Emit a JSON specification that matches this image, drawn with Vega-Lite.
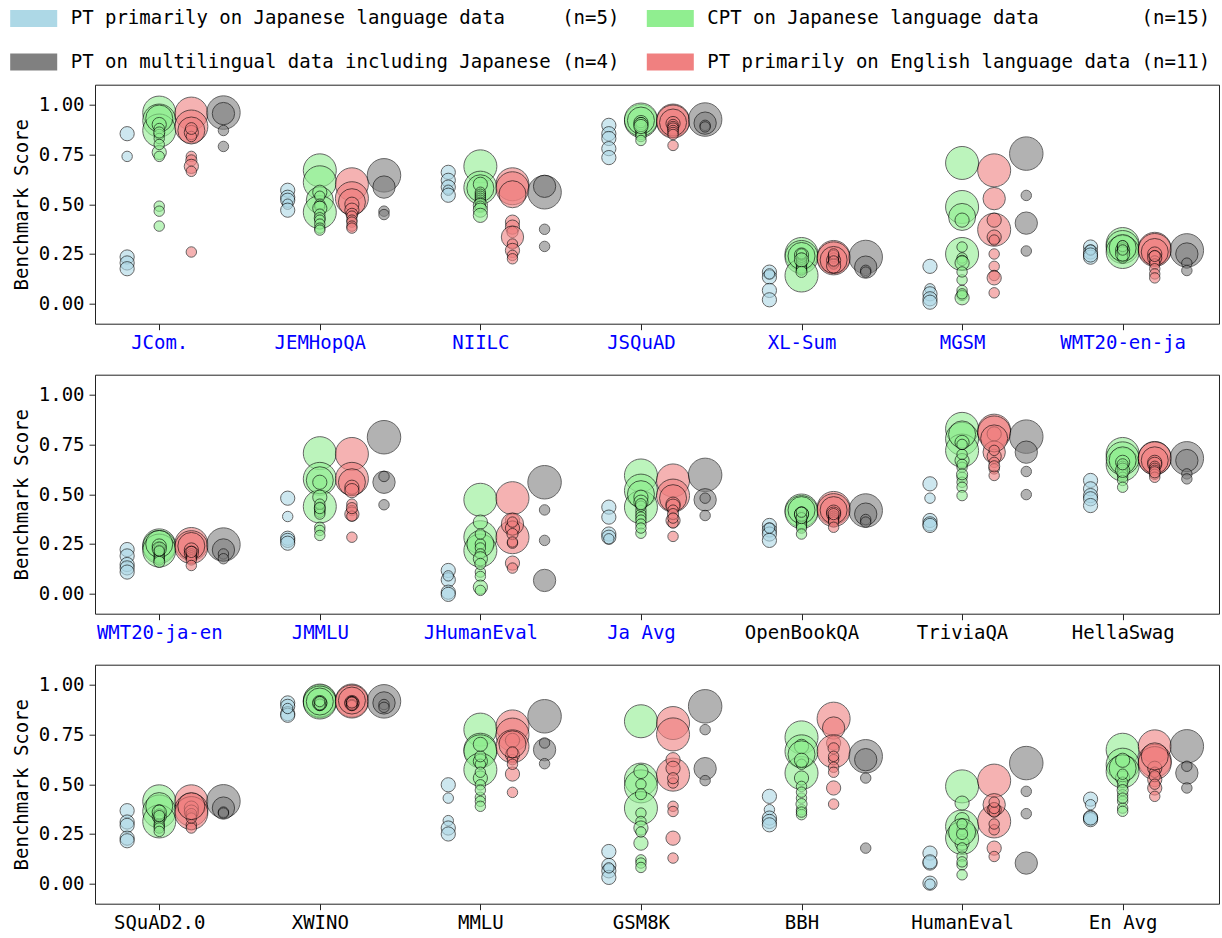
{
"$schema": "https://vega.github.io/schema/vega-lite/v6.json",
"padding": {"left": 11, "top": 2.7, "right": 5, "bottom": 5},
"config": {
  "font": "DejaVu Sans Mono",
  "view": {"stroke": "#222", "strokeWidth": 1},
  "axis": {"labelFont": "DejaVu Sans Mono", "labelFontSize": 19, "titleFont": "DejaVu Sans Mono", "titleFontSize": 19, "titleFontWeight": "normal", "tickColor": "#222", "tickSize": 6, "grid": false, "domain": false, "labelColor": "black", "titleColor": "black"},
  "concat": {"spacing": 20}
},
"spacing": 20,
"datasets": {"d": [
{"b":"JCom.","g":"ja","p":13,"s":0.854},{"b":"JCom.","g":"ja","p":7,"s":0.74},{"b":"JCom.","g":"ja","p":13,"s":0.235},{"b":"JCom.","g":"ja","p":13,"s":0.205},{"b":"JCom.","g":"ja","p":13,"s":0.176},
{"b":"JCom.","g":"cpt","p":70,"s":0.96},{"b":"JCom.","g":"cpt","p":70,"s":0.92},{"b":"JCom.","g":"cpt","p":70,"s":0.87},{"b":"JCom.","g":"cpt","p":47,"s":0.93},{"b":"JCom.","g":"cpt","p":13,"s":0.90},{"b":"JCom.","g":"cpt","p":7,"s":0.88},{"b":"JCom.","g":"cpt","p":7,"s":0.85},{"b":"JCom.","g":"cpt","p":7,"s":0.83},{"b":"JCom.","g":"cpt","p":13,"s":0.76},{"b":"JCom.","g":"cpt","p":7,"s":0.74},{"b":"JCom.","g":"cpt","p":7,"s":0.49},{"b":"JCom.","g":"cpt","p":7,"s":0.465},{"b":"JCom.","g":"cpt","p":7,"s":0.39},{"b":"JCom.","g":"cpt","p":8,"s":0.86},{"b":"JCom.","g":"cpt","p":7,"s":0.80},
{"b":"JCom.","g":"en","p":70,"s":0.955},{"b":"JCom.","g":"en","p":70,"s":0.89},{"b":"JCom.","g":"en","p":47,"s":0.87},{"b":"JCom.","g":"en","p":13,"s":0.86},{"b":"JCom.","g":"en","p":7,"s":0.84},{"b":"JCom.","g":"en","p":9,"s":0.88},{"b":"JCom.","g":"en","p":7,"s":0.74},{"b":"JCom.","g":"en","p":8,"s":0.72},{"b":"JCom.","g":"en","p":13,"s":0.69},{"b":"JCom.","g":"en","p":7,"s":0.665},{"b":"JCom.","g":"en","p":7,"s":0.26},
{"b":"JCom.","g":"multi","p":72,"s":0.96},{"b":"JCom.","g":"multi","p":32,"s":0.955},{"b":"JCom.","g":"multi","p":7,"s":0.87},{"b":"JCom.","g":"multi","p":7,"s":0.79},

{"b":"JEMHopQA","g":"ja","p":13,"s":0.57},{"b":"JEMHopQA","g":"ja","p":13,"s":0.535},{"b":"JEMHopQA","g":"ja","p":13,"s":0.52},{"b":"JEMHopQA","g":"ja","p":7,"s":0.50},{"b":"JEMHopQA","g":"ja","p":13,"s":0.47},
{"b":"JEMHopQA","g":"cpt","p":70,"s":0.67},{"b":"JEMHopQA","g":"cpt","p":70,"s":0.61},{"b":"JEMHopQA","g":"cpt","p":47,"s":0.52},{"b":"JEMHopQA","g":"cpt","p":70,"s":0.46},{"b":"JEMHopQA","g":"cpt","p":13,"s":0.56},{"b":"JEMHopQA","g":"cpt","p":7,"s":0.54},{"b":"JEMHopQA","g":"cpt","p":7,"s":0.50},{"b":"JEMHopQA","g":"cpt","p":7,"s":0.49},{"b":"JEMHopQA","g":"cpt","p":13,"s":0.48},{"b":"JEMHopQA","g":"cpt","p":7,"s":0.45},{"b":"JEMHopQA","g":"cpt","p":8,"s":0.43},{"b":"JEMHopQA","g":"cpt","p":7,"s":0.42},{"b":"JEMHopQA","g":"cpt","p":7,"s":0.40},{"b":"JEMHopQA","g":"cpt","p":7,"s":0.38},{"b":"JEMHopQA","g":"cpt","p":7,"s":0.37},
{"b":"JEMHopQA","g":"en","p":70,"s":0.60},{"b":"JEMHopQA","g":"en","p":70,"s":0.53},{"b":"JEMHopQA","g":"en","p":47,"s":0.51},{"b":"JEMHopQA","g":"en","p":13,"s":0.50},{"b":"JEMHopQA","g":"en","p":13,"s":0.47},{"b":"JEMHopQA","g":"en","p":9,"s":0.45},{"b":"JEMHopQA","g":"en","p":7,"s":0.44},{"b":"JEMHopQA","g":"en","p":7,"s":0.42},{"b":"JEMHopQA","g":"en","p":7,"s":0.41},{"b":"JEMHopQA","g":"en","p":7,"s":0.39},{"b":"JEMHopQA","g":"en","p":7,"s":0.38},
{"b":"JEMHopQA","g":"multi","p":72,"s":0.645},{"b":"JEMHopQA","g":"multi","p":32,"s":0.586},{"b":"JEMHopQA","g":"multi","p":7,"s":0.465},{"b":"JEMHopQA","g":"multi","p":7,"s":0.448},

{"b":"NIILC","g":"ja","p":13,"s":0.66},{"b":"NIILC","g":"ja","p":13,"s":0.62},{"b":"NIILC","g":"ja","p":13,"s":0.586},{"b":"NIILC","g":"ja","p":7,"s":0.57},{"b":"NIILC","g":"ja","p":13,"s":0.545},
{"b":"NIILC","g":"cpt","p":70,"s":0.69},{"b":"NIILC","g":"cpt","p":70,"s":0.583},{"b":"NIILC","g":"cpt","p":47,"s":0.58},{"b":"NIILC","g":"cpt","p":13,"s":0.60},{"b":"NIILC","g":"cpt","p":7,"s":0.56},{"b":"NIILC","g":"cpt","p":7,"s":0.55},{"b":"NIILC","g":"cpt","p":7,"s":0.54},{"b":"NIILC","g":"cpt","p":7,"s":0.53},{"b":"NIILC","g":"cpt","p":7,"s":0.52},{"b":"NIILC","g":"cpt","p":7,"s":0.51},{"b":"NIILC","g":"cpt","p":7,"s":0.50},{"b":"NIILC","g":"cpt","p":13,"s":0.494},{"b":"NIILC","g":"cpt","p":7,"s":0.49},{"b":"NIILC","g":"cpt","p":13,"s":0.47},{"b":"NIILC","g":"cpt","p":13,"s":0.444},
{"b":"NIILC","g":"en","p":70,"s":0.60},{"b":"NIILC","g":"en","p":70,"s":0.58},{"b":"NIILC","g":"en","p":47,"s":0.55},{"b":"NIILC","g":"en","p":13,"s":0.41},{"b":"NIILC","g":"en","p":13,"s":0.385},{"b":"NIILC","g":"en","p":8,"s":0.36},{"b":"NIILC","g":"en","p":32,"s":0.335},{"b":"NIILC","g":"en","p":7,"s":0.30},{"b":"NIILC","g":"en","p":13,"s":0.268},{"b":"NIILC","g":"en","p":7,"s":0.243},{"b":"NIILC","g":"en","p":7,"s":0.226},
{"b":"NIILC","g":"multi","p":72,"s":0.56},{"b":"NIILC","g":"multi","p":32,"s":0.59},{"b":"NIILC","g":"multi","p":7,"s":0.374},{"b":"NIILC","g":"multi","p":7,"s":0.288},

{"b":"JSQuAD","g":"ja","p":13,"s":0.896},{"b":"JSQuAD","g":"ja","p":13,"s":0.854},{"b":"JSQuAD","g":"ja","p":13,"s":0.83},{"b":"JSQuAD","g":"ja","p":13,"s":0.779},{"b":"JSQuAD","g":"ja","p":13,"s":0.734},
{"b":"JSQuAD","g":"cpt","p":70,"s":0.918},{"b":"JSQuAD","g":"cpt","p":70,"s":0.925},{"b":"JSQuAD","g":"cpt","p":47,"s":0.92},{"b":"JSQuAD","g":"cpt","p":13,"s":0.91},{"b":"JSQuAD","g":"cpt","p":7,"s":0.90},{"b":"JSQuAD","g":"cpt","p":7,"s":0.89},{"b":"JSQuAD","g":"cpt","p":7,"s":0.88},{"b":"JSQuAD","g":"cpt","p":7,"s":0.87},{"b":"JSQuAD","g":"cpt","p":7,"s":0.86},{"b":"JSQuAD","g":"cpt","p":7,"s":0.85},{"b":"JSQuAD","g":"cpt","p":7,"s":0.84},{"b":"JSQuAD","g":"cpt","p":7,"s":0.82},{"b":"JSQuAD","g":"cpt","p":7,"s":0.91},{"b":"JSQuAD","g":"cpt","p":13,"s":0.90},{"b":"JSQuAD","g":"cpt","p":13,"s":0.89},
{"b":"JSQuAD","g":"en","p":70,"s":0.92},{"b":"JSQuAD","g":"en","p":70,"s":0.915},{"b":"JSQuAD","g":"en","p":47,"s":0.91},{"b":"JSQuAD","g":"en","p":13,"s":0.905},{"b":"JSQuAD","g":"en","p":7,"s":0.90},{"b":"JSQuAD","g":"en","p":7,"s":0.89},{"b":"JSQuAD","g":"en","p":8,"s":0.88},{"b":"JSQuAD","g":"en","p":7,"s":0.87},{"b":"JSQuAD","g":"en","p":7,"s":0.86},{"b":"JSQuAD","g":"en","p":7,"s":0.85},{"b":"JSQuAD","g":"en","p":7,"s":0.795},
{"b":"JSQuAD","g":"multi","p":72,"s":0.925},{"b":"JSQuAD","g":"multi","p":32,"s":0.907},{"b":"JSQuAD","g":"multi","p":7,"s":0.896},{"b":"JSQuAD","g":"multi","p":7,"s":0.888},

{"b":"XL-Sum","g":"ja","p":13,"s":0.159},{"b":"XL-Sum","g":"ja","p":13,"s":0.134},{"b":"XL-Sum","g":"ja","p":13,"s":0.067},{"b":"XL-Sum","g":"ja","p":13,"s":0.02},{"b":"XL-Sum","g":"ja","p":7,"s":0.15},
{"b":"XL-Sum","g":"cpt","p":70,"s":0.25},{"b":"XL-Sum","g":"cpt","p":70,"s":0.235},{"b":"XL-Sum","g":"cpt","p":70,"s":0.142},{"b":"XL-Sum","g":"cpt","p":47,"s":0.24},{"b":"XL-Sum","g":"cpt","p":13,"s":0.245},{"b":"XL-Sum","g":"cpt","p":7,"s":0.23},{"b":"XL-Sum","g":"cpt","p":7,"s":0.22},{"b":"XL-Sum","g":"cpt","p":7,"s":0.21},{"b":"XL-Sum","g":"cpt","p":7,"s":0.20},{"b":"XL-Sum","g":"cpt","p":7,"s":0.19},{"b":"XL-Sum","g":"cpt","p":7,"s":0.18},{"b":"XL-Sum","g":"cpt","p":7,"s":0.17},{"b":"XL-Sum","g":"cpt","p":7,"s":0.25},{"b":"XL-Sum","g":"cpt","p":13,"s":0.22},{"b":"XL-Sum","g":"cpt","p":8,"s":0.16},
{"b":"XL-Sum","g":"en","p":70,"s":0.235},{"b":"XL-Sum","g":"en","p":70,"s":0.228},{"b":"XL-Sum","g":"en","p":47,"s":0.22},{"b":"XL-Sum","g":"en","p":13,"s":0.218},{"b":"XL-Sum","g":"en","p":7,"s":0.21},{"b":"XL-Sum","g":"en","p":7,"s":0.20},{"b":"XL-Sum","g":"en","p":7,"s":0.23},{"b":"XL-Sum","g":"en","p":8,"s":0.24},{"b":"XL-Sum","g":"en","p":13,"s":0.19},{"b":"XL-Sum","g":"en","p":7,"s":0.25},{"b":"XL-Sum","g":"en","p":7,"s":0.215},
{"b":"XL-Sum","g":"multi","p":72,"s":0.235},{"b":"XL-Sum","g":"multi","p":32,"s":0.184},{"b":"XL-Sum","g":"multi","p":7,"s":0.168},{"b":"XL-Sum","g":"multi","p":7,"s":0.159},

{"b":"MGSM","g":"ja","p":13,"s":0.188},{"b":"MGSM","g":"ja","p":7,"s":0.075},{"b":"MGSM","g":"ja","p":13,"s":0.05},{"b":"MGSM","g":"ja","p":13,"s":0.025},{"b":"MGSM","g":"ja","p":13,"s":0.008},
{"b":"MGSM","g":"cpt","p":70,"s":0.707},{"b":"MGSM","g":"cpt","p":70,"s":0.486},{"b":"MGSM","g":"cpt","p":47,"s":0.436},{"b":"MGSM","g":"cpt","p":70,"s":0.25},{"b":"MGSM","g":"cpt","p":13,"s":0.42},{"b":"MGSM","g":"cpt","p":7,"s":0.285},{"b":"MGSM","g":"cpt","p":7,"s":0.23},{"b":"MGSM","g":"cpt","p":7,"s":0.218},{"b":"MGSM","g":"cpt","p":13,"s":0.205},{"b":"MGSM","g":"cpt","p":7,"s":0.12},{"b":"MGSM","g":"cpt","p":7,"s":0.067},{"b":"MGSM","g":"cpt","p":7,"s":0.042},{"b":"MGSM","g":"cpt","p":13,"s":0.03},{"b":"MGSM","g":"cpt","p":7,"s":0.05},{"b":"MGSM","g":"cpt","p":7,"s":0.16},
{"b":"MGSM","g":"en","p":70,"s":0.67},{"b":"MGSM","g":"en","p":32,"s":0.528},{"b":"MGSM","g":"en","p":70,"s":0.372},{"b":"MGSM","g":"en","p":13,"s":0.42},{"b":"MGSM","g":"en","p":13,"s":0.335},{"b":"MGSM","g":"en","p":7,"s":0.32},{"b":"MGSM","g":"en","p":7,"s":0.25},{"b":"MGSM","g":"en","p":7,"s":0.188},{"b":"MGSM","g":"en","p":7,"s":0.142},{"b":"MGSM","g":"en","p":13,"s":0.13},{"b":"MGSM","g":"en","p":7,"s":0.055},
{"b":"MGSM","g":"multi","p":72,"s":0.754},{"b":"MGSM","g":"multi","p":7,"s":0.544},{"b":"MGSM","g":"multi","p":32,"s":0.405},{"b":"MGSM","g":"multi","p":7,"s":0.265},

{"b":"WMT20-en-ja","g":"ja","p":13,"s":0.285},{"b":"WMT20-en-ja","g":"ja","p":13,"s":0.26},{"b":"WMT20-en-ja","g":"ja","p":13,"s":0.234},{"b":"WMT20-en-ja","g":"ja","p":7,"s":0.27},{"b":"WMT20-en-ja","g":"ja","p":13,"s":0.245},
{"b":"WMT20-en-ja","g":"cpt","p":70,"s":0.30},{"b":"WMT20-en-ja","g":"cpt","p":70,"s":0.285},{"b":"WMT20-en-ja","g":"cpt","p":70,"s":0.26},{"b":"WMT20-en-ja","g":"cpt","p":47,"s":0.28},{"b":"WMT20-en-ja","g":"cpt","p":13,"s":0.27},{"b":"WMT20-en-ja","g":"cpt","p":7,"s":0.29},{"b":"WMT20-en-ja","g":"cpt","p":7,"s":0.28},{"b":"WMT20-en-ja","g":"cpt","p":7,"s":0.27},{"b":"WMT20-en-ja","g":"cpt","p":7,"s":0.26},{"b":"WMT20-en-ja","g":"cpt","p":7,"s":0.25},{"b":"WMT20-en-ja","g":"cpt","p":7,"s":0.24},{"b":"WMT20-en-ja","g":"cpt","p":7,"s":0.23},{"b":"WMT20-en-ja","g":"cpt","p":13,"s":0.25},{"b":"WMT20-en-ja","g":"cpt","p":8,"s":0.29},{"b":"WMT20-en-ja","g":"cpt","p":7,"s":0.27},
{"b":"WMT20-en-ja","g":"en","p":70,"s":0.276},{"b":"WMT20-en-ja","g":"en","p":70,"s":0.27},{"b":"WMT20-en-ja","g":"en","p":47,"s":0.26},{"b":"WMT20-en-ja","g":"en","p":13,"s":0.25},{"b":"WMT20-en-ja","g":"en","p":13,"s":0.23},{"b":"WMT20-en-ja","g":"en","p":7,"s":0.215},{"b":"WMT20-en-ja","g":"en","p":7,"s":0.20},{"b":"WMT20-en-ja","g":"en","p":7,"s":0.176},{"b":"WMT20-en-ja","g":"en","p":7,"s":0.15},{"b":"WMT20-en-ja","g":"en","p":7,"s":0.13},{"b":"WMT20-en-ja","g":"en","p":8,"s":0.24},
{"b":"WMT20-en-ja","g":"multi","p":72,"s":0.268},{"b":"WMT20-en-ja","g":"multi","p":32,"s":0.25},{"b":"WMT20-en-ja","g":"multi","p":7,"s":0.204},{"b":"WMT20-en-ja","g":"multi","p":7,"s":0.167},

{"b":"WMT20-ja-en","g":"ja","p":13,"s":0.222},{"b":"WMT20-ja-en","g":"ja","p":13,"s":0.19},{"b":"WMT20-ja-en","g":"ja","p":13,"s":0.147},{"b":"WMT20-ja-en","g":"ja","p":13,"s":0.13},{"b":"WMT20-ja-en","g":"ja","p":13,"s":0.109},
{"b":"WMT20-ja-en","g":"cpt","p":70,"s":0.243},{"b":"WMT20-ja-en","g":"cpt","p":70,"s":0.235},{"b":"WMT20-ja-en","g":"cpt","p":70,"s":0.217},{"b":"WMT20-ja-en","g":"cpt","p":47,"s":0.25},{"b":"WMT20-ja-en","g":"cpt","p":13,"s":0.24},{"b":"WMT20-ja-en","g":"cpt","p":7,"s":0.23},{"b":"WMT20-ja-en","g":"cpt","p":7,"s":0.22},{"b":"WMT20-ja-en","g":"cpt","p":7,"s":0.21},{"b":"WMT20-ja-en","g":"cpt","p":7,"s":0.20},{"b":"WMT20-ja-en","g":"cpt","p":7,"s":0.19},{"b":"WMT20-ja-en","g":"cpt","p":7,"s":0.18},{"b":"WMT20-ja-en","g":"cpt","p":7,"s":0.17},{"b":"WMT20-ja-en","g":"cpt","p":13,"s":0.225},{"b":"WMT20-ja-en","g":"cpt","p":8,"s":0.16},{"b":"WMT20-ja-en","g":"cpt","p":7,"s":0.215},
{"b":"WMT20-ja-en","g":"en","p":70,"s":0.25},{"b":"WMT20-ja-en","g":"en","p":70,"s":0.234},{"b":"WMT20-ja-en","g":"en","p":47,"s":0.24},{"b":"WMT20-ja-en","g":"en","p":13,"s":0.22},{"b":"WMT20-ja-en","g":"en","p":13,"s":0.204},{"b":"WMT20-ja-en","g":"en","p":7,"s":0.20},{"b":"WMT20-ja-en","g":"en","p":7,"s":0.19},{"b":"WMT20-ja-en","g":"en","p":7,"s":0.18},{"b":"WMT20-ja-en","g":"en","p":7,"s":0.17},{"b":"WMT20-ja-en","g":"en","p":7,"s":0.142},{"b":"WMT20-ja-en","g":"en","p":8,"s":0.21},
{"b":"WMT20-ja-en","g":"multi","p":72,"s":0.247},{"b":"WMT20-ja-en","g":"multi","p":32,"s":0.22},{"b":"WMT20-ja-en","g":"multi","p":7,"s":0.20},{"b":"WMT20-ja-en","g":"multi","p":7,"s":0.176},

{"b":"JMMLU","g":"ja","p":13,"s":0.48},{"b":"JMMLU","g":"ja","p":7,"s":0.388},{"b":"JMMLU","g":"ja","p":13,"s":0.279},{"b":"JMMLU","g":"ja","p":13,"s":0.268},{"b":"JMMLU","g":"ja","p":13,"s":0.254},
{"b":"JMMLU","g":"cpt","p":70,"s":0.706},{"b":"JMMLU","g":"cpt","p":70,"s":0.577},{"b":"JMMLU","g":"cpt","p":70,"s":0.438},{"b":"JMMLU","g":"cpt","p":47,"s":0.57},{"b":"JMMLU","g":"cpt","p":13,"s":0.56},{"b":"JMMLU","g":"cpt","p":13,"s":0.485},{"b":"JMMLU","g":"cpt","p":7,"s":0.435},{"b":"JMMLU","g":"cpt","p":7,"s":0.42},{"b":"JMMLU","g":"cpt","p":7,"s":0.41},{"b":"JMMLU","g":"cpt","p":7,"s":0.40},{"b":"JMMLU","g":"cpt","p":7,"s":0.334},{"b":"JMMLU","g":"cpt","p":7,"s":0.318},{"b":"JMMLU","g":"cpt","p":7,"s":0.293},{"b":"JMMLU","g":"cpt","p":7,"s":0.45},{"b":"JMMLU","g":"cpt","p":8,"s":0.43},
{"b":"JMMLU","g":"en","p":70,"s":0.702},{"b":"JMMLU","g":"en","p":70,"s":0.577},{"b":"JMMLU","g":"en","p":47,"s":0.56},{"b":"JMMLU","g":"en","p":13,"s":0.535},{"b":"JMMLU","g":"en","p":13,"s":0.518},{"b":"JMMLU","g":"en","p":7,"s":0.45},{"b":"JMMLU","g":"en","p":7,"s":0.418},{"b":"JMMLU","g":"en","p":13,"s":0.40},{"b":"JMMLU","g":"en","p":7,"s":0.39},{"b":"JMMLU","g":"en","p":7,"s":0.284},{"b":"JMMLU","g":"en","p":8,"s":0.43},
{"b":"JMMLU","g":"multi","p":72,"s":0.786},{"b":"JMMLU","g":"multi","p":32,"s":0.56},{"b":"JMMLU","g":"multi","p":7,"s":0.589},{"b":"JMMLU","g":"multi","p":7,"s":0.447},

{"b":"JHumanEval","g":"ja","p":13,"s":0.117},{"b":"JHumanEval","g":"ja","p":13,"s":0.07},{"b":"JHumanEval","g":"ja","p":13,"s":0.008},{"b":"JHumanEval","g":"ja","p":13,"s":-0.003},{"b":"JHumanEval","g":"ja","p":7,"s":0.09},
{"b":"JHumanEval","g":"cpt","p":70,"s":0.472},{"b":"JHumanEval","g":"cpt","p":70,"s":0.284},{"b":"JHumanEval","g":"cpt","p":70,"s":0.217},{"b":"JHumanEval","g":"cpt","p":47,"s":0.25},{"b":"JHumanEval","g":"cpt","p":13,"s":0.36},{"b":"JHumanEval","g":"cpt","p":7,"s":0.25},{"b":"JHumanEval","g":"cpt","p":7,"s":0.23},{"b":"JHumanEval","g":"cpt","p":7,"s":0.20},{"b":"JHumanEval","g":"cpt","p":13,"s":0.176},{"b":"JHumanEval","g":"cpt","p":7,"s":0.109},{"b":"JHumanEval","g":"cpt","p":7,"s":0.087},{"b":"JHumanEval","g":"cpt","p":13,"s":0.033},{"b":"JHumanEval","g":"cpt","p":7,"s":0.017},{"b":"JHumanEval","g":"cpt","p":7,"s":0.30},{"b":"JHumanEval","g":"cpt","p":8,"s":0.15},
{"b":"JHumanEval","g":"en","p":70,"s":0.48},{"b":"JHumanEval","g":"en","p":70,"s":0.284},{"b":"JHumanEval","g":"en","p":13,"s":0.368},{"b":"JHumanEval","g":"en","p":32,"s":0.35},{"b":"JHumanEval","g":"en","p":13,"s":0.33},{"b":"JHumanEval","g":"en","p":7,"s":0.254},{"b":"JHumanEval","g":"en","p":13,"s":0.154},{"b":"JHumanEval","g":"en","p":7,"s":0.129},{"b":"JHumanEval","g":"en","p":7,"s":0.36},{"b":"JHumanEval","g":"en","p":8,"s":0.30},{"b":"JHumanEval","g":"en","p":7,"s":0.26},
{"b":"JHumanEval","g":"multi","p":72,"s":0.56},{"b":"JHumanEval","g":"multi","p":7,"s":0.421},{"b":"JHumanEval","g":"multi","p":7,"s":0.268},{"b":"JHumanEval","g":"multi","p":32,"s":0.067},

{"b":"Ja Avg","g":"ja","p":13,"s":0.435},{"b":"Ja Avg","g":"ja","p":13,"s":0.385},{"b":"Ja Avg","g":"ja","p":13,"s":0.30},{"b":"Ja Avg","g":"ja","p":13,"s":0.284},{"b":"Ja Avg","g":"ja","p":7,"s":0.276},
{"b":"Ja Avg","g":"cpt","p":70,"s":0.594},{"b":"Ja Avg","g":"cpt","p":70,"s":0.518},{"b":"Ja Avg","g":"cpt","p":70,"s":0.435},{"b":"Ja Avg","g":"cpt","p":47,"s":0.50},{"b":"Ja Avg","g":"cpt","p":13,"s":0.485},{"b":"Ja Avg","g":"cpt","p":13,"s":0.46},{"b":"Ja Avg","g":"cpt","p":7,"s":0.418},{"b":"Ja Avg","g":"cpt","p":7,"s":0.40},{"b":"Ja Avg","g":"cpt","p":7,"s":0.385},{"b":"Ja Avg","g":"cpt","p":7,"s":0.37},{"b":"Ja Avg","g":"cpt","p":7,"s":0.35},{"b":"Ja Avg","g":"cpt","p":7,"s":0.304},{"b":"Ja Avg","g":"cpt","p":7,"s":0.44},{"b":"Ja Avg","g":"cpt","p":8,"s":0.45},{"b":"Ja Avg","g":"cpt","p":7,"s":0.33},
{"b":"Ja Avg","g":"en","p":70,"s":0.569},{"b":"Ja Avg","g":"en","p":70,"s":0.493},{"b":"Ja Avg","g":"en","p":47,"s":0.48},{"b":"Ja Avg","g":"en","p":13,"s":0.45},{"b":"Ja Avg","g":"en","p":13,"s":0.44},{"b":"Ja Avg","g":"en","p":7,"s":0.42},{"b":"Ja Avg","g":"en","p":13,"s":0.368},{"b":"Ja Avg","g":"en","p":7,"s":0.355},{"b":"Ja Avg","g":"en","p":7,"s":0.288},{"b":"Ja Avg","g":"en","p":8,"s":0.40},{"b":"Ja Avg","g":"en","p":7,"s":0.38},
{"b":"Ja Avg","g":"multi","p":72,"s":0.597},{"b":"Ja Avg","g":"multi","p":32,"s":0.472},{"b":"Ja Avg","g":"multi","p":7,"s":0.48},{"b":"Ja Avg","g":"multi","p":7,"s":0.393},

{"b":"OpenBookQA","g":"ja","p":13,"s":0.343},{"b":"OpenBookQA","g":"ja","p":13,"s":0.32},{"b":"OpenBookQA","g":"ja","p":13,"s":0.30},{"b":"OpenBookQA","g":"ja","p":13,"s":0.268},{"b":"OpenBookQA","g":"ja","p":7,"s":0.33},
{"b":"OpenBookQA","g":"cpt","p":70,"s":0.418},{"b":"OpenBookQA","g":"cpt","p":70,"s":0.41},{"b":"OpenBookQA","g":"cpt","p":47,"s":0.42},{"b":"OpenBookQA","g":"cpt","p":13,"s":0.40},{"b":"OpenBookQA","g":"cpt","p":7,"s":0.39},{"b":"OpenBookQA","g":"cpt","p":7,"s":0.38},{"b":"OpenBookQA","g":"cpt","p":7,"s":0.37},{"b":"OpenBookQA","g":"cpt","p":7,"s":0.36},{"b":"OpenBookQA","g":"cpt","p":7,"s":0.35},{"b":"OpenBookQA","g":"cpt","p":7,"s":0.34},{"b":"OpenBookQA","g":"cpt","p":7,"s":0.33},{"b":"OpenBookQA","g":"cpt","p":7,"s":0.30},{"b":"OpenBookQA","g":"cpt","p":13,"s":0.40},{"b":"OpenBookQA","g":"cpt","p":8,"s":0.38},{"b":"OpenBookQA","g":"cpt","p":7,"s":0.41},
{"b":"OpenBookQA","g":"en","p":70,"s":0.431},{"b":"OpenBookQA","g":"en","p":70,"s":0.42},{"b":"OpenBookQA","g":"en","p":47,"s":0.42},{"b":"OpenBookQA","g":"en","p":13,"s":0.41},{"b":"OpenBookQA","g":"en","p":13,"s":0.40},{"b":"OpenBookQA","g":"en","p":7,"s":0.39},{"b":"OpenBookQA","g":"en","p":7,"s":0.38},{"b":"OpenBookQA","g":"en","p":7,"s":0.37},{"b":"OpenBookQA","g":"en","p":7,"s":0.36},{"b":"OpenBookQA","g":"en","p":7,"s":0.334},{"b":"OpenBookQA","g":"en","p":8,"s":0.40},
{"b":"OpenBookQA","g":"multi","p":72,"s":0.418},{"b":"OpenBookQA","g":"multi","p":32,"s":0.40},{"b":"OpenBookQA","g":"multi","p":7,"s":0.373},{"b":"OpenBookQA","g":"multi","p":7,"s":0.36},

{"b":"TriviaQA","g":"ja","p":13,"s":0.552},{"b":"TriviaQA","g":"ja","p":7,"s":0.48},{"b":"TriviaQA","g":"ja","p":13,"s":0.368},{"b":"TriviaQA","g":"ja","p":13,"s":0.351},{"b":"TriviaQA","g":"ja","p":13,"s":0.343},
{"b":"TriviaQA","g":"cpt","p":70,"s":0.828},{"b":"TriviaQA","g":"cpt","p":70,"s":0.778},{"b":"TriviaQA","g":"cpt","p":70,"s":0.719},{"b":"TriviaQA","g":"cpt","p":47,"s":0.80},{"b":"TriviaQA","g":"cpt","p":13,"s":0.76},{"b":"TriviaQA","g":"cpt","p":13,"s":0.669},{"b":"TriviaQA","g":"cpt","p":7,"s":0.635},{"b":"TriviaQA","g":"cpt","p":7,"s":0.585},{"b":"TriviaQA","g":"cpt","p":7,"s":0.56},{"b":"TriviaQA","g":"cpt","p":7,"s":0.535},{"b":"TriviaQA","g":"cpt","p":7,"s":0.493},{"b":"TriviaQA","g":"cpt","p":7,"s":0.70},{"b":"TriviaQA","g":"cpt","p":7,"s":0.65},{"b":"TriviaQA","g":"cpt","p":8,"s":0.60},{"b":"TriviaQA","g":"cpt","p":7,"s":0.75},
{"b":"TriviaQA","g":"en","p":70,"s":0.819},{"b":"TriviaQA","g":"en","p":70,"s":0.81},{"b":"TriviaQA","g":"en","p":13,"s":0.803},{"b":"TriviaQA","g":"en","p":32,"s":0.711},{"b":"TriviaQA","g":"en","p":13,"s":0.69},{"b":"TriviaQA","g":"en","p":7,"s":0.66},{"b":"TriviaQA","g":"en","p":7,"s":0.627},{"b":"TriviaQA","g":"en","p":7,"s":0.594},{"b":"TriviaQA","g":"en","p":47,"s":0.78},{"b":"TriviaQA","g":"en","p":8,"s":0.64},{"b":"TriviaQA","g":"en","p":7,"s":0.72},
{"b":"TriviaQA","g":"multi","p":72,"s":0.789},{"b":"TriviaQA","g":"multi","p":32,"s":0.711},{"b":"TriviaQA","g":"multi","p":7,"s":0.614},{"b":"TriviaQA","g":"multi","p":7,"s":0.498},

{"b":"HellaSwag","g":"ja","p":13,"s":0.569},{"b":"HellaSwag","g":"ja","p":13,"s":0.527},{"b":"HellaSwag","g":"ja","p":13,"s":0.493},{"b":"HellaSwag","g":"ja","p":13,"s":0.477},{"b":"HellaSwag","g":"ja","p":13,"s":0.443},
{"b":"HellaSwag","g":"cpt","p":70,"s":0.702},{"b":"HellaSwag","g":"cpt","p":70,"s":0.649},{"b":"HellaSwag","g":"cpt","p":70,"s":0.68},{"b":"HellaSwag","g":"cpt","p":47,"s":0.67},{"b":"HellaSwag","g":"cpt","p":13,"s":0.66},{"b":"HellaSwag","g":"cpt","p":7,"s":0.64},{"b":"HellaSwag","g":"cpt","p":7,"s":0.63},{"b":"HellaSwag","g":"cpt","p":7,"s":0.62},{"b":"HellaSwag","g":"cpt","p":7,"s":0.61},{"b":"HellaSwag","g":"cpt","p":7,"s":0.60},{"b":"HellaSwag","g":"cpt","p":7,"s":0.585},{"b":"HellaSwag","g":"cpt","p":7,"s":0.569},{"b":"HellaSwag","g":"cpt","p":7,"s":0.535},{"b":"HellaSwag","g":"cpt","p":13,"s":0.62},{"b":"HellaSwag","g":"cpt","p":8,"s":0.65},
{"b":"HellaSwag","g":"en","p":70,"s":0.682},{"b":"HellaSwag","g":"en","p":70,"s":0.68},{"b":"HellaSwag","g":"en","p":47,"s":0.67},{"b":"HellaSwag","g":"en","p":13,"s":0.66},{"b":"HellaSwag","g":"en","p":13,"s":0.65},{"b":"HellaSwag","g":"en","p":7,"s":0.64},{"b":"HellaSwag","g":"en","p":7,"s":0.63},{"b":"HellaSwag","g":"en","p":7,"s":0.62},{"b":"HellaSwag","g":"en","p":7,"s":0.60},{"b":"HellaSwag","g":"en","p":7,"s":0.585},{"b":"HellaSwag","g":"en","p":8,"s":0.61},
{"b":"HellaSwag","g":"multi","p":72,"s":0.68},{"b":"HellaSwag","g":"multi","p":32,"s":0.669},{"b":"HellaSwag","g":"multi","p":7,"s":0.602},{"b":"HellaSwag","g":"multi","p":7,"s":0.577},

{"b":"SQuAD2.0","g":"ja","p":13,"s":0.367},{"b":"SQuAD2.0","g":"ja","p":13,"s":0.31},{"b":"SQuAD2.0","g":"ja","p":13,"s":0.293},{"b":"SQuAD2.0","g":"ja","p":13,"s":0.229},{"b":"SQuAD2.0","g":"ja","p":13,"s":0.216},
{"b":"SQuAD2.0","g":"cpt","p":70,"s":0.414},{"b":"SQuAD2.0","g":"cpt","p":70,"s":0.363},{"b":"SQuAD2.0","g":"cpt","p":70,"s":0.313},{"b":"SQuAD2.0","g":"cpt","p":47,"s":0.39},{"b":"SQuAD2.0","g":"cpt","p":13,"s":0.338},{"b":"SQuAD2.0","g":"cpt","p":7,"s":0.37},{"b":"SQuAD2.0","g":"cpt","p":7,"s":0.35},{"b":"SQuAD2.0","g":"cpt","p":7,"s":0.33},{"b":"SQuAD2.0","g":"cpt","p":7,"s":0.32},{"b":"SQuAD2.0","g":"cpt","p":7,"s":0.30},{"b":"SQuAD2.0","g":"cpt","p":7,"s":0.29},{"b":"SQuAD2.0","g":"cpt","p":7,"s":0.28},{"b":"SQuAD2.0","g":"cpt","p":7,"s":0.263},{"b":"SQuAD2.0","g":"cpt","p":13,"s":0.36},{"b":"SQuAD2.0","g":"cpt","p":8,"s":0.34},
{"b":"SQuAD2.0","g":"en","p":70,"s":0.414},{"b":"SQuAD2.0","g":"en","p":70,"s":0.372},{"b":"SQuAD2.0","g":"en","p":70,"s":0.355},{"b":"SQuAD2.0","g":"en","p":13,"s":0.38},{"b":"SQuAD2.0","g":"en","p":13,"s":0.36},{"b":"SQuAD2.0","g":"en","p":7,"s":0.34},{"b":"SQuAD2.0","g":"en","p":7,"s":0.296},{"b":"SQuAD2.0","g":"en","p":7,"s":0.28},{"b":"SQuAD2.0","g":"en","p":8,"s":0.35},{"b":"SQuAD2.0","g":"en","p":7,"s":0.33},{"b":"SQuAD2.0","g":"en","p":47,"s":0.39},
{"b":"SQuAD2.0","g":"multi","p":72,"s":0.414},{"b":"SQuAD2.0","g":"multi","p":32,"s":0.38},{"b":"SQuAD2.0","g":"multi","p":7,"s":0.36},{"b":"SQuAD2.0","g":"multi","p":7,"s":0.355},

{"b":"XWINO","g":"ja","p":13,"s":0.908},{"b":"XWINO","g":"ja","p":13,"s":0.891},{"b":"XWINO","g":"ja","p":13,"s":0.854},{"b":"XWINO","g":"ja","p":13,"s":0.846},{"b":"XWINO","g":"ja","p":7,"s":0.88},
{"b":"XWINO","g":"cpt","p":70,"s":0.916},{"b":"XWINO","g":"cpt","p":70,"s":0.92},{"b":"XWINO","g":"cpt","p":70,"s":0.91},{"b":"XWINO","g":"cpt","p":47,"s":0.915},{"b":"XWINO","g":"cpt","p":13,"s":0.91},{"b":"XWINO","g":"cpt","p":7,"s":0.90},{"b":"XWINO","g":"cpt","p":7,"s":0.905},{"b":"XWINO","g":"cpt","p":7,"s":0.91},{"b":"XWINO","g":"cpt","p":7,"s":0.90},{"b":"XWINO","g":"cpt","p":7,"s":0.895},{"b":"XWINO","g":"cpt","p":7,"s":0.90},{"b":"XWINO","g":"cpt","p":7,"s":0.91},{"b":"XWINO","g":"cpt","p":13,"s":0.905},{"b":"XWINO","g":"cpt","p":8,"s":0.90},{"b":"XWINO","g":"cpt","p":7,"s":0.915},
{"b":"XWINO","g":"en","p":70,"s":0.92},{"b":"XWINO","g":"en","p":70,"s":0.915},{"b":"XWINO","g":"en","p":47,"s":0.92},{"b":"XWINO","g":"en","p":13,"s":0.91},{"b":"XWINO","g":"en","p":13,"s":0.905},{"b":"XWINO","g":"en","p":7,"s":0.90},{"b":"XWINO","g":"en","p":7,"s":0.91},{"b":"XWINO","g":"en","p":7,"s":0.915},{"b":"XWINO","g":"en","p":7,"s":0.90},{"b":"XWINO","g":"en","p":7,"s":0.895},{"b":"XWINO","g":"en","p":8,"s":0.91},
{"b":"XWINO","g":"multi","p":72,"s":0.916},{"b":"XWINO","g":"multi","p":32,"s":0.908},{"b":"XWINO","g":"multi","p":7,"s":0.90},{"b":"XWINO","g":"multi","p":7,"s":0.886},

{"b":"MMLU","g":"ja","p":13,"s":0.497},{"b":"MMLU","g":"ja","p":7,"s":0.43},{"b":"MMLU","g":"ja","p":7,"s":0.317},{"b":"MMLU","g":"ja","p":13,"s":0.28},{"b":"MMLU","g":"ja","p":13,"s":0.25},
{"b":"MMLU","g":"cpt","p":70,"s":0.774},{"b":"MMLU","g":"cpt","p":70,"s":0.673},{"b":"MMLU","g":"cpt","p":70,"s":0.665},{"b":"MMLU","g":"cpt","p":70,"s":0.573},{"b":"MMLU","g":"cpt","p":13,"s":0.615},{"b":"MMLU","g":"cpt","p":13,"s":0.531},{"b":"MMLU","g":"cpt","p":7,"s":0.497},{"b":"MMLU","g":"cpt","p":7,"s":0.434},{"b":"MMLU","g":"cpt","p":7,"s":0.414},{"b":"MMLU","g":"cpt","p":7,"s":0.389},{"b":"MMLU","g":"cpt","p":7,"s":0.60},{"b":"MMLU","g":"cpt","p":7,"s":0.56},{"b":"MMLU","g":"cpt","p":8,"s":0.64},{"b":"MMLU","g":"cpt","p":13,"s":0.70},{"b":"MMLU","g":"cpt","p":7,"s":0.47},
{"b":"MMLU","g":"en","p":70,"s":0.79},{"b":"MMLU","g":"en","p":70,"s":0.749},{"b":"MMLU","g":"en","p":70,"s":0.69},{"b":"MMLU","g":"en","p":13,"s":0.72},{"b":"MMLU","g":"en","p":13,"s":0.648},{"b":"MMLU","g":"en","p":7,"s":0.623},{"b":"MMLU","g":"en","p":13,"s":0.551},{"b":"MMLU","g":"en","p":7,"s":0.459},{"b":"MMLU","g":"en","p":47,"s":0.70},{"b":"MMLU","g":"en","p":8,"s":0.66},{"b":"MMLU","g":"en","p":7,"s":0.60},
{"b":"MMLU","g":"multi","p":72,"s":0.841},{"b":"MMLU","g":"multi","p":32,"s":0.673},{"b":"MMLU","g":"multi","p":7,"s":0.707},{"b":"MMLU","g":"multi","p":7,"s":0.603},

{"b":"GSM8K","g":"ja","p":13,"s":0.162},{"b":"GSM8K","g":"ja","p":13,"s":0.092},{"b":"GSM8K","g":"ja","p":13,"s":0.065},{"b":"GSM8K","g":"ja","p":13,"s":0.032},{"b":"GSM8K","g":"ja","p":7,"s":0.08},
{"b":"GSM8K","g":"cpt","p":70,"s":0.816},{"b":"GSM8K","g":"cpt","p":70,"s":0.523},{"b":"GSM8K","g":"cpt","p":70,"s":0.489},{"b":"GSM8K","g":"cpt","p":70,"s":0.38},{"b":"GSM8K","g":"cpt","p":13,"s":0.564},{"b":"GSM8K","g":"cpt","p":7,"s":0.355},{"b":"GSM8K","g":"cpt","p":7,"s":0.313},{"b":"GSM8K","g":"cpt","p":13,"s":0.28},{"b":"GSM8K","g":"cpt","p":13,"s":0.204},{"b":"GSM8K","g":"cpt","p":7,"s":0.12},{"b":"GSM8K","g":"cpt","p":7,"s":0.104},{"b":"GSM8K","g":"cpt","p":7,"s":0.082},{"b":"GSM8K","g":"cpt","p":7,"s":0.50},{"b":"GSM8K","g":"cpt","p":8,"s":0.45},{"b":"GSM8K","g":"cpt","p":7,"s":0.26},
{"b":"GSM8K","g":"en","p":70,"s":0.807},{"b":"GSM8K","g":"en","p":70,"s":0.75},{"b":"GSM8K","g":"en","p":70,"s":0.548},{"b":"GSM8K","g":"en","p":13,"s":0.623},{"b":"GSM8K","g":"en","p":13,"s":0.58},{"b":"GSM8K","g":"en","p":7,"s":0.506},{"b":"GSM8K","g":"en","p":7,"s":0.389},{"b":"GSM8K","g":"en","p":7,"s":0.363},{"b":"GSM8K","g":"en","p":13,"s":0.229},{"b":"GSM8K","g":"en","p":7,"s":0.129},{"b":"GSM8K","g":"en","p":8,"s":0.53},
{"b":"GSM8K","g":"multi","p":72,"s":0.891},{"b":"GSM8K","g":"multi","p":7,"s":0.774},{"b":"GSM8K","g":"multi","p":32,"s":0.578},{"b":"GSM8K","g":"multi","p":7,"s":0.518},

{"b":"BBH","g":"ja","p":13,"s":0.439},{"b":"BBH","g":"ja","p":7,"s":0.372},{"b":"BBH","g":"ja","p":13,"s":0.33},{"b":"BBH","g":"ja","p":13,"s":0.313},{"b":"BBH","g":"ja","p":13,"s":0.296},
{"b":"BBH","g":"cpt","p":70,"s":0.735},{"b":"BBH","g":"cpt","p":70,"s":0.665},{"b":"BBH","g":"cpt","p":70,"s":0.556},{"b":"BBH","g":"cpt","p":13,"s":0.69},{"b":"BBH","g":"cpt","p":13,"s":0.531},{"b":"BBH","g":"cpt","p":7,"s":0.489},{"b":"BBH","g":"cpt","p":7,"s":0.43},{"b":"BBH","g":"cpt","p":7,"s":0.372},{"b":"BBH","g":"cpt","p":7,"s":0.347},{"b":"BBH","g":"cpt","p":47,"s":0.65},{"b":"BBH","g":"cpt","p":7,"s":0.60},{"b":"BBH","g":"cpt","p":7,"s":0.46},{"b":"BBH","g":"cpt","p":8,"s":0.40},{"b":"BBH","g":"cpt","p":7,"s":0.36},{"b":"BBH","g":"cpt","p":13,"s":0.62},
{"b":"BBH","g":"en","p":70,"s":0.829},{"b":"BBH","g":"en","p":32,"s":0.782},{"b":"BBH","g":"en","p":13,"s":0.707},{"b":"BBH","g":"en","p":70,"s":0.665},{"b":"BBH","g":"en","p":7,"s":0.623},{"b":"BBH","g":"en","p":7,"s":0.585},{"b":"BBH","g":"en","p":7,"s":0.56},{"b":"BBH","g":"en","p":13,"s":0.481},{"b":"BBH","g":"en","p":7,"s":0.40},{"b":"BBH","g":"en","p":8,"s":0.68},{"b":"BBH","g":"en","p":7,"s":0.64},
{"b":"BBH","g":"multi","p":72,"s":0.64},{"b":"BBH","g":"multi","p":32,"s":0.623},{"b":"BBH","g":"multi","p":7,"s":0.531},{"b":"BBH","g":"multi","p":7,"s":0.179},

{"b":"HumanEval","g":"ja","p":13,"s":0.154},{"b":"HumanEval","g":"ja","p":13,"s":0.104},{"b":"HumanEval","g":"ja","p":13,"s":0.003},{"b":"HumanEval","g":"ja","p":7,"s":-0.002},{"b":"HumanEval","g":"ja","p":13,"s":0.11},
{"b":"HumanEval","g":"cpt","p":70,"s":0.489},{"b":"HumanEval","g":"cpt","p":70,"s":0.288},{"b":"HumanEval","g":"cpt","p":70,"s":0.23},{"b":"HumanEval","g":"cpt","p":13,"s":0.405},{"b":"HumanEval","g":"cpt","p":13,"s":0.322},{"b":"HumanEval","g":"cpt","p":7,"s":0.271},{"b":"HumanEval","g":"cpt","p":13,"s":0.204},{"b":"HumanEval","g":"cpt","p":7,"s":0.137},{"b":"HumanEval","g":"cpt","p":7,"s":0.095},{"b":"HumanEval","g":"cpt","p":7,"s":0.045},{"b":"HumanEval","g":"cpt","p":47,"s":0.26},{"b":"HumanEval","g":"cpt","p":7,"s":0.18},{"b":"HumanEval","g":"cpt","p":8,"s":0.25},{"b":"HumanEval","g":"cpt","p":7,"s":0.30},{"b":"HumanEval","g":"cpt","p":7,"s":0.11},
{"b":"HumanEval","g":"en","p":70,"s":0.518},{"b":"HumanEval","g":"en","p":70,"s":0.313},{"b":"HumanEval","g":"en","p":32,"s":0.397},{"b":"HumanEval","g":"en","p":13,"s":0.372},{"b":"HumanEval","g":"en","p":7,"s":0.271},{"b":"HumanEval","g":"en","p":13,"s":0.179},{"b":"HumanEval","g":"en","p":7,"s":0.137},{"b":"HumanEval","g":"en","p":7,"s":0.36},{"b":"HumanEval","g":"en","p":8,"s":0.38},{"b":"HumanEval","g":"en","p":7,"s":0.30},{"b":"HumanEval","g":"en","p":7,"s":0.41},
{"b":"HumanEval","g":"multi","p":72,"s":0.606},{"b":"HumanEval","g":"multi","p":7,"s":0.464},{"b":"HumanEval","g":"multi","p":7,"s":0.352},{"b":"HumanEval","g":"multi","p":32,"s":0.104},

{"b":"En Avg","g":"ja","p":13,"s":0.425},{"b":"En Avg","g":"ja","p":7,"s":0.397},{"b":"En Avg","g":"ja","p":13,"s":0.333},{"b":"En Avg","g":"ja","p":13,"s":0.322},{"b":"En Avg","g":"ja","p":13,"s":0.33},
{"b":"En Avg","g":"cpt","p":70,"s":0.673},{"b":"En Avg","g":"cpt","p":70,"s":0.598},{"b":"En Avg","g":"cpt","p":70,"s":0.564},{"b":"En Avg","g":"cpt","p":13,"s":0.531},{"b":"En Avg","g":"cpt","p":7,"s":0.489},{"b":"En Avg","g":"cpt","p":7,"s":0.447},{"b":"En Avg","g":"cpt","p":7,"s":0.414},{"b":"En Avg","g":"cpt","p":7,"s":0.38},{"b":"En Avg","g":"cpt","p":7,"s":0.364},{"b":"En Avg","g":"cpt","p":47,"s":0.58},{"b":"En Avg","g":"cpt","p":13,"s":0.62},{"b":"En Avg","g":"cpt","p":7,"s":0.51},{"b":"En Avg","g":"cpt","p":8,"s":0.47},{"b":"En Avg","g":"cpt","p":7,"s":0.43},{"b":"En Avg","g":"cpt","p":7,"s":0.55},
{"b":"En Avg","g":"en","p":70,"s":0.69},{"b":"En Avg","g":"en","p":70,"s":0.618},{"b":"En Avg","g":"en","p":70,"s":0.606},{"b":"En Avg","g":"en","p":13,"s":0.58},{"b":"En Avg","g":"en","p":13,"s":0.523},{"b":"En Avg","g":"en","p":7,"s":0.56},{"b":"En Avg","g":"en","p":13,"s":0.481},{"b":"En Avg","g":"en","p":7,"s":0.439},{"b":"En Avg","g":"en","p":8,"s":0.54},{"b":"En Avg","g":"en","p":7,"s":0.50},{"b":"En Avg","g":"en","p":47,"s":0.64},
{"b":"En Avg","g":"multi","p":72,"s":0.69},{"b":"En Avg","g":"multi","p":32,"s":0.556},{"b":"En Avg","g":"multi","p":7,"s":0.59},{"b":"En Avg","g":"multi","p":7,"s":0.481}
]},
"vconcat": [
{
  "width": 1124, "height": 239,
  "data": {"name": "d"},
  "transform": [{"filter": {"field": "b", "oneOf": ["JCom.","JEMHopQA","NIILC","JSQuAD","XL-Sum","MGSM","WMT20-en-ja"]}}],
  "mark": {"type": "circle", "opacity": 0.6, "stroke": "black", "strokeWidth": 1},
  "encoding": {
    "x": {"field": "b", "type": "nominal", "title": null, "scale": {"type": "point", "padding": 0.5, "align": 0.4, "domain": ["JCom.","JEMHopQA","NIILC","JSQuAD","XL-Sum","MGSM","WMT20-en-ja"]}, "axis": {"labelAngle": 0, "labelPadding": 4, "labelColor": "blue"}},
    "xOffset": {"field": "g", "type": "nominal", "scale": {"type": "point", "padding": 0, "domain": ["ja","cpt","en","multi"], "range": [-32.1, 64.2]}},
    "y": {"field": "s", "type": "quantitative", "title": "Benchmark Score", "scale": {"domain": [-0.1, 1.1], "nice": false, "zero": false}, "axis": {"values": [0, 0.25, 0.5, 0.75, 1], "format": ".2f", "labelPadding": 5, "titlePadding": 7}},
    "size": {"field": "p", "type": "quantitative", "scale": {"type": "linear", "domain": [0, 72], "range": [0, 1120], "zero": true}, "legend": null},
    "color": {"field": "g", "type": "nominal", "scale": {"domain": ["ja","cpt","multi","en"], "range": ["#ADD8E6","#90EE90","#808080","#F08080"]},
      "legend": {"orient": "none", "legendX": -76.3, "legendY": -81.3, "columns": 2, "direction": "horizontal", "title": null,
        "symbolType": "M-1.567,-0.567H1.567V0.567H-1.567Z", "symbolSize": 900, "symbolOpacity": 1, "symbolStrokeWidth": 0,
        "labelFont": "DejaVu Sans Mono", "labelFontSize": 19, "labelColor": "black", "labelLimit": 0, "labelOffset": 22, "columnPadding": 25.6, "rowPadding": 18.7,
        "labelExpr": "datum.value == 'ja' ? 'PT primarily on Japanese language data\u00a0\u00a0\u00a0\u00a0\u00a0(n=5)' : datum.value == 'cpt' ? 'CPT on Japanese language data\u00a0\u00a0\u00a0\u00a0\u00a0\u00a0\u00a0\u00a0\u00a0(n=15)' : datum.value == 'multi' ? 'PT on multilingual data including Japanese (n=4)' : 'PT primarily on English language data (n=11)'"}}
  }
},
{
  "width": 1124, "height": 239,
  "data": {"name": "d"},
  "transform": [{"filter": {"field": "b", "oneOf": ["WMT20-ja-en","JMMLU","JHumanEval","Ja Avg","OpenBookQA","TriviaQA","HellaSwag"]}}],
  "mark": {"type": "circle", "opacity": 0.6, "stroke": "black", "strokeWidth": 1},
  "encoding": {
    "x": {"field": "b", "type": "nominal", "title": null, "scale": {"type": "point", "padding": 0.5, "align": 0.4, "domain": ["WMT20-ja-en","JMMLU","JHumanEval","Ja Avg","OpenBookQA","TriviaQA","HellaSwag"]}, "axis": {"labelAngle": 0, "labelPadding": 4, "labelColor": {"condition": {"test": "indexof(['WMT20-ja-en','JMMLU','JHumanEval','Ja Avg'], datum.value) >= 0", "value": "blue"}, "value": "black"}}},
    "xOffset": {"field": "g", "type": "nominal", "scale": {"type": "point", "padding": 0, "domain": ["ja","cpt","en","multi"], "range": [-32.1, 64.2]}},
    "y": {"field": "s", "type": "quantitative", "title": "Benchmark Score", "scale": {"domain": [-0.1, 1.1], "nice": false, "zero": false}, "axis": {"values": [0, 0.25, 0.5, 0.75, 1], "format": ".2f", "labelPadding": 5, "titlePadding": 7}},
    "size": {"field": "p", "type": "quantitative", "scale": {"type": "linear", "domain": [0, 72], "range": [0, 1120], "zero": true}, "legend": null},
    "color": {"field": "g", "type": "nominal", "scale": {"domain": ["ja","cpt","multi","en"], "range": ["#ADD8E6","#90EE90","#808080","#F08080"]}}
  }
},
{
  "width": 1124, "height": 239,
  "data": {"name": "d"},
  "transform": [{"filter": {"field": "b", "oneOf": ["SQuAD2.0","XWINO","MMLU","GSM8K","BBH","HumanEval","En Avg"]}}],
  "mark": {"type": "circle", "opacity": 0.6, "stroke": "black", "strokeWidth": 1},
  "encoding": {
    "x": {"field": "b", "type": "nominal", "title": null, "scale": {"type": "point", "padding": 0.5, "align": 0.4, "domain": ["SQuAD2.0","XWINO","MMLU","GSM8K","BBH","HumanEval","En Avg"]}, "axis": {"labelAngle": 0, "labelPadding": 4, "labelColor": "black"}},
    "xOffset": {"field": "g", "type": "nominal", "scale": {"type": "point", "padding": 0, "domain": ["ja","cpt","en","multi"], "range": [-32.1, 64.2]}},
    "y": {"field": "s", "type": "quantitative", "title": "Benchmark Score", "scale": {"domain": [-0.1, 1.1], "nice": false, "zero": false}, "axis": {"values": [0, 0.25, 0.5, 0.75, 1], "format": ".2f", "labelPadding": 5, "titlePadding": 7}},
    "size": {"field": "p", "type": "quantitative", "scale": {"type": "linear", "domain": [0, 72], "range": [0, 1120], "zero": true}, "legend": null},
    "color": {"field": "g", "type": "nominal", "scale": {"domain": ["ja","cpt","multi","en"], "range": ["#ADD8E6","#90EE90","#808080","#F08080"]}}
  }
}
],
"resolve": {"scale": {"x": "independent", "xOffset": "independent"}}
}
